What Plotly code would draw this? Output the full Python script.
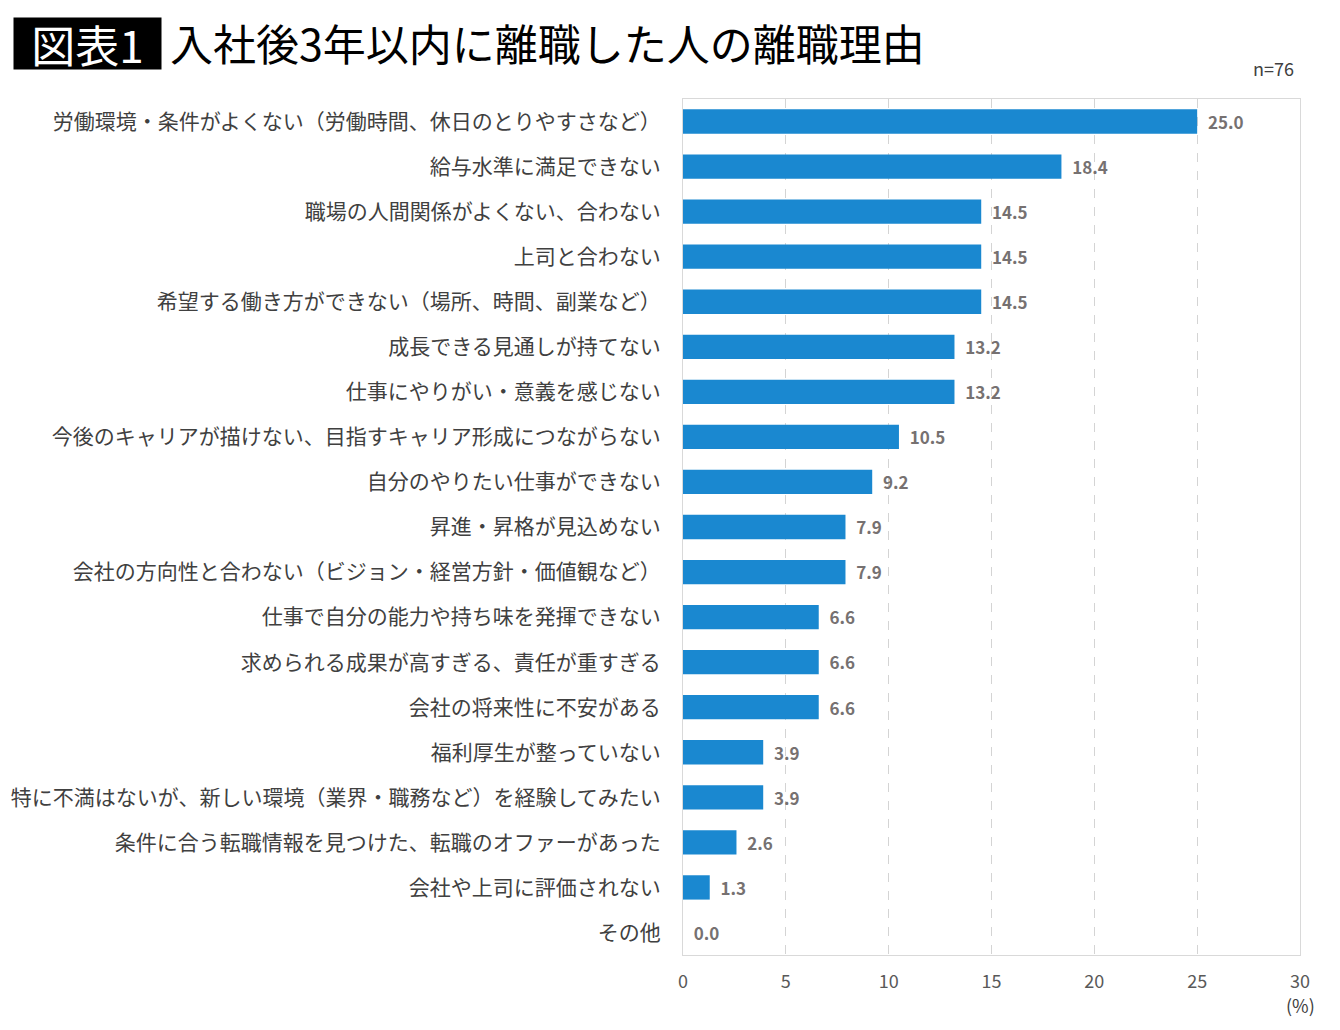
import plotly.graph_objects as go

# 離職理由と割合（%）
categories = [
    "労働環境・条件がよくない（労働時間、休日のとりやすさなど）",
    "給与水準に満足できない",
    "職場の人間関係がよくない、合わない",
    "上司と合わない",
    "希望する働き方ができない（場所、時間、副業など）",
    "成長できる見通しが持てない",
    "仕事にやりがい・意義を感じない",
    "今後のキャリアが描けない、目指すキャリア形成につながらない",
    "自分のやりたい仕事ができない",
    "昇進・昇格が見込めない",
    "会社の方向性と合わない（ビジョン・経営方針・価値観など）",
    "仕事で自分の能力や持ち味を発揮できない",
    "求められる成果が高すぎる、責任が重すぎる",
    "会社の将来性に不安がある",
    "福利厚生が整っていない",
    "特に不満はないが、新しい環境（業界・職務など）を経験してみたい",
    "条件に合う転職情報を見つけた、転職のオファーがあった",
    "会社や上司に評価されない",
    "その他",
]
values = [25.0, 18.4, 14.5, 14.5, 14.5, 13.2, 13.2, 10.5, 9.2, 7.9,
          7.9, 6.6, 6.6, 6.6, 3.9, 3.9, 2.6, 1.3, 0.0]
x_ticks = [0, 5, 10, 15, 20, 25, 30]

FONT = "Noto Sans CJK JP"

# ページの余白(8px)ぶんを差し引いて配置
OFF = 8
W, H = 1340 - 2 * OFF, 1030 - 2 * OFF
L, T, R, B = 683 - OFF, 99 - OFF, (1340 - OFF) - 1300, (1030 - OFF) - 955
PW, PH = W - L - R, H - T - B


def px(x, y):
    # 参照画像のピクセル位置 -> paper座標
    return (x - OFF - L) / PW, (H - (y - OFF) - B) / PH


fig = go.Figure()
fig.add_trace(go.Bar(
    y=categories, x=values, orientation="h",
    marker=dict(color="#1a88d0", line=dict(width=0)),
    width=0.54,
    text=[f"\u00a0\u00a0{v:.1f}" for v in values],
    textposition="outside",
    cliponaxis=False,
    textfont=dict(family=FONT, size=21, color="#767171", weight="bold"),
    hoverinfo="x+y",
))

annotations = []
bx, by = px(13, 17)
annotations.append(dict(text="図表1", x=bx, y=by, xanchor="left", yanchor="top",
                        font=dict(family=FONT, size=44, color="white"),
                        bgcolor="black", borderpad=0, width=147, height=51))
tx, ty = px(168, 42)
annotations.append(dict(text="入社後3年以内に離職した人の離職理由", x=tx, y=ty,
                        xanchor="left", yanchor="middle",
                        font=dict(family=FONT, size=43, color="black")))
nx, ny = px(1296, 68)
annotations.append(dict(text="n=76", x=nx, y=ny, xanchor="right", yanchor="middle",
                        font=dict(family=FONT, size=18, color="#404040")))
ux, uy = px(1300, 1020)
annotations.append(dict(text="(%)", x=ux, y=uy, xanchor="center", yanchor="bottom",
                        font=dict(family=FONT, size=18, color="#404040")))
for a in annotations:
    a.update(xref="paper", yref="paper", showarrow=False)

fig.update_layout(
    width=W, height=H,
    margin=dict(l=L, r=R, t=T, b=B),
    plot_bgcolor="white", paper_bgcolor="white",
    font=dict(family=FONT),
    showlegend=False,
    xaxis=dict(
        range=[0, 30], tickvals=x_ticks, showgrid=True,
        gridcolor="#d4d4d4", griddash="dash", gridwidth=1,
        zeroline=False, showline=True, linecolor="#d9d9d9", mirror=True,
        tickfont=dict(size=18, color="#595959"), ticks="", ticklabelstandoff=10,
        automargin=False,
    ),
    yaxis=dict(
        autorange="reversed", showline=True, linecolor="#d9d9d9", mirror=True,
        tickfont=dict(size=21, color="#404040"), ticks="", ticklabelstandoff=17,
        showgrid=False, automargin=False,
    ),
    annotations=annotations,
)

fig.write_html("out.html")
